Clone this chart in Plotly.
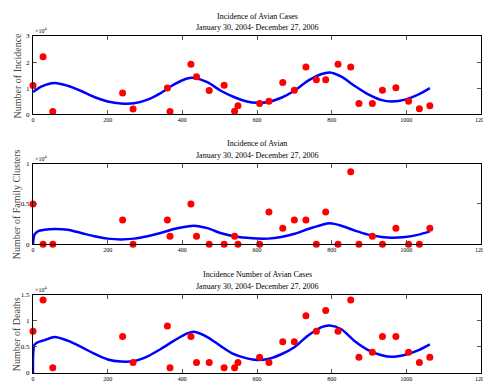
import plotly.graph_objects as go
from plotly.subplots import make_subplots

# observation days since Jan 30, 2004 (values are in units of 10^4)
days = [0, 27, 53, 240, 268, 360, 367, 423, 438, 472, 512, 540, 549, 607, 632,
        669, 700, 731, 759, 784, 817, 851, 873, 909, 936, 972, 1006, 1035, 1063]
cases = [1.1, 2.2, 0.1, 0.81, 0.2, 1.0, 0.1, 1.92, 1.44, 0.91, 1.11, 0.11, 0.32, 0.41, 0.5,
         1.22, 0.92, 1.81, 1.32, 1.32, 1.92, 1.81, 0.41, 0.41, 0.92, 1.01, 0.5, 0.21, 0.32]
clusters = [0.5, 0, 0, 0.3, 0, 0.3, 0.1, 0.5, 0.1, 0, 0, 0.1, 0, 0, 0.4,
            0.2, 0.3, 0.3, 0, 0.4, 0, 0.9, 0, 0.1, 0, 0.2, 0, 0, 0.2]
deaths = [0.8, 1.4, 0.1, 0.7, 0.2, 0.9, 0.1, 0.7, 0.2, 0.2, 0.1, 0.1, 0.2, 0.3, 0.2,
          0.6, 0.6, 1.1, 0.8, 1.2, 0.8, 1.4, 0.3, 0.4, 0.7, 0.7, 0.4, 0.2, 0.3]

# fitted model curves
fit_x1 = [0, 22, 58, 93, 129, 164, 200, 236, 271, 307, 342, 378, 413, 431, 467, 502, 538,
          573, 600, 630, 665, 701, 737, 773, 795, 826, 862, 898, 934, 961, 997, 1033, 1063]
fit_y1 = [0.85, 1.06, 1.2, 1.09, 0.89, 0.66, 0.49, 0.41, 0.42, 0.56, 0.81, 1.14, 1.37, 1.39,
          1.23, 0.91, 0.66, 0.49, 0.44, 0.47, 0.63, 0.91, 1.29, 1.54, 1.6, 1.44, 1.08, 0.76,
          0.54, 0.49, 0.56, 0.76, 1.0]
fit_x23 = [0, 4, 13, 31, 58, 93, 129, 164, 200, 236, 271, 307, 342, 378, 413, 431, 467, 502,
           538, 573, 600, 630, 665, 701, 737, 773, 795, 826, 862, 898, 934, 961, 997, 1033, 1063]
fit_y2 = [0, 0.12, 0.16, 0.18, 0.19, 0.18, 0.14, 0.10, 0.07, 0.06, 0.07, 0.10, 0.14, 0.19,
          0.22, 0.23, 0.20, 0.14, 0.10, 0.08, 0.07, 0.07, 0.09, 0.13, 0.19, 0.24, 0.26, 0.23,
          0.17, 0.12, 0.09, 0.08, 0.09, 0.12, 0.16]
fit_y3 = [0, 0.54, 0.59, 0.63, 0.69, 0.62, 0.50, 0.37, 0.26, 0.22, 0.23, 0.32, 0.46, 0.62,
          0.76, 0.79, 0.69, 0.52, 0.36, 0.28, 0.25, 0.27, 0.36, 0.50, 0.72, 0.88, 0.91, 0.84,
          0.61, 0.44, 0.34, 0.31, 0.35, 0.44, 0.55]

titles = ["Incidence of Avian Cases", "Incidence of Avian", "Incidence Number of Avian Cases"]
subtitle = "January 30, 2004- December 27, 2006"
ylabels = ["Number of Incidence", "Number of Family Clusters", "Number of Deaths"]
yranges = [[0, 3], [0, 1], [0, 1.5]]
ytickvals = [[0, 1, 2, 3], [0, 0.5, 1], [0, 0.5, 1, 1.5]]
yticktext = [["0", "1", "2", "3"], ["0", "0.5", "1"], ["0", "0.5", "1", "1.5"]]

serif = "Liberation Serif"
fig = make_subplots(rows=3, cols=1)

pts = [cases, clusters, deaths]
fits = [(fit_x1, fit_y1), (fit_x23, fit_y2), (fit_x23, fit_y3)]
for i in range(3):
    fig.add_trace(go.Scatter(x=fits[i][0], y=fits[i][1], mode='lines',
                             line=dict(color='#0000ff', width=2.5, shape='spline', smoothing=0.8),
                             showlegend=False), row=i+1, col=1)
    fig.add_trace(go.Scatter(x=days, y=pts[i], mode='markers', cliponaxis=False,
                             marker=dict(color='#ff0000', size=7),
                             showlegend=False), row=i+1, col=1)

domains = [[0.768, 1.0], [0.382, 0.621], [0.0, 0.232]]
ann = []
for i in range(3):
    n = '' if i == 0 else str(i+1)
    fig.layout['xaxis' + n].update(domain=[0, 1], range=[0, 1200], tickvals=list(range(0, 1201, 200)),
                                   showline=True, linecolor='black', linewidth=1, mirror='allticks',
                                   ticks='inside', ticklen=4, tickcolor='#555', showgrid=False,
                                   zeroline=False, tickfont=dict(family=serif, size=6, color='black'))
    fig.layout['yaxis' + n].update(domain=domains[i], range=yranges[i], tickvals=ytickvals[i],
                                   ticktext=yticktext[i], showline=True, linecolor='black', linewidth=1,
                                   mirror='allticks', ticks='inside', ticklen=4, tickcolor='#555',
                                   showgrid=False, zeroline=False, ticklabelstandoff=1,
                                   tickfont=dict(family=serif, size=7, color='black'))
    top = domains[i][1]
    mid = (domains[i][0] + domains[i][1]) / 2
    ann.append(dict(text=titles[i], x=0.5, y=top + 0.059, xref='paper', yref='paper',
                    yanchor='middle', showarrow=False, font=dict(family=serif, size=8, color='black')))
    ann.append(dict(text=subtitle, x=0.5, y=top + 0.025, xref='paper', yref='paper',
                    yanchor='middle', showarrow=False, font=dict(family=serif, size=8, color='black')))
    ann.append(dict(text=ylabels[i], x=-0.035, y=mid, xref='paper', yref='paper', textangle=-90,
                    xanchor='center', yanchor='middle',
                    showarrow=False, font=dict(family=serif, size=10, color='#444')))
    ann.append(dict(text='\u00d710<sup>4</sup>', x=0.0, y=top, xref='paper', yref='paper',
                    xanchor='left', yanchor='bottom', showarrow=False,
                    font=dict(family=serif, size=6, color='black')))

fig.update_layout(width=491, height=386, margin=dict(l=25, r=18, t=28, b=18),
                  plot_bgcolor='white', paper_bgcolor='white', annotations=ann)

fig.write_html("out.html")
